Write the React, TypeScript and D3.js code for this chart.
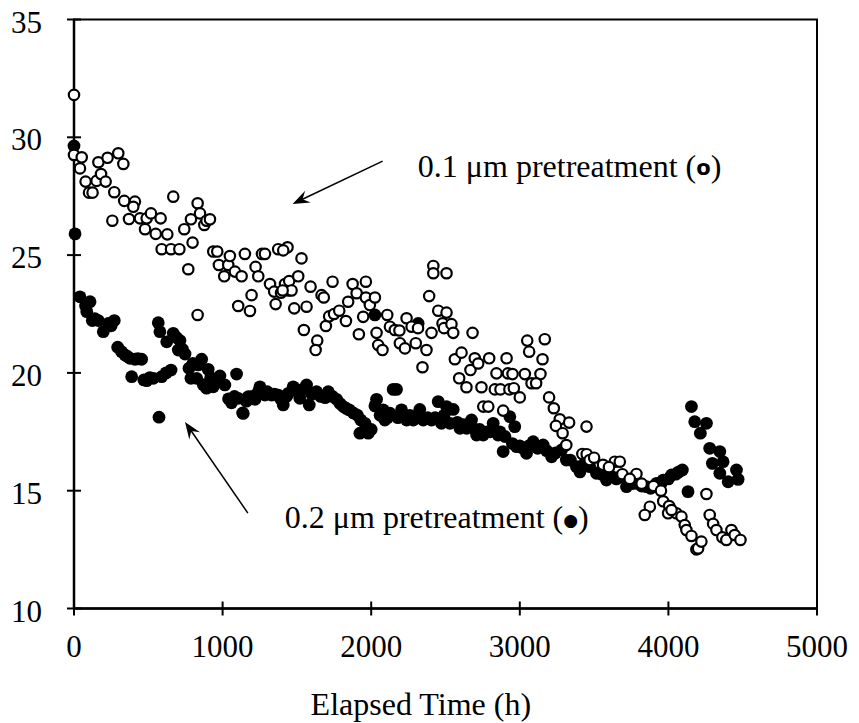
import React from 'react'
import * as d3 from 'd3'

// 0.1 um pretreatment (open circles)
const openTime = [0, 0, 52, 40, 164, 226, 298, 332, 78, 101, 125, 152, 182, 213, 271, 258, 338, 410, 399, 370, 444, 478, 489, 518, 583, 550, 628, 590, 653, 709, 668, 769, 742, 798, 787, 832, 848, 877, 892, 915, 832, 937, 964, 975, 1038, 1049, 1011, 1083, 1128, 1150, 1105, 1184, 1195, 1222, 1240, 1265, 1285, 1319, 1347, 1374, 1437, 1357, 1393, 1420, 1443, 1482, 1531, 1408, 1448, 1509, 1464, 1404, 1565, 1592, 1547, 1637, 1626, 1666, 1681, 1740, 1695, 1717, 1750, 1785, 1845, 1830, 1875, 1902, 1964, 1946, 1917, 1964, 1991, 2025, 2036, 2047, 2076, 2108, 2126, 2159, 2190, 2193, 2227, 2238, 2272, 2300, 2315, 2372, 2345, 2390, 2406, 2418, 2418, 2507, 2451, 2507, 2480, 2490, 2540, 2552, 2682, 2563, 2608, 2592, 2641, 2668, 2697, 2720, 2742, 2794, 2843, 2832, 2870, 2754, 2788, 2888, 2911, 2920, 2930, 2951, 3034, 3050, 3168, 3063, 3153, 3139, 2960, 3000, 3079, 3110, 3197, 3229, 3269, 3332, 3243, 3288, 3449, 3313, 3421, 3450, 3470, 3639, 3673, 3785, 3690, 3500, 3560, 3600, 3740, 3820, 3900, 3950, 3875, 3841, 3965, 4005, 3998, 4054, 4088, 4110, 4121, 4155, 4188, 4200, 4222, 4256, 4278, 4301, 4323, 4363, 4390, 4424, 4446, 4485, 4021]
const openValue = [31.8, 29.25, 29.15, 28.68, 28.94, 29.13, 29.32, 28.87, 28.12, 27.65, 27.65, 28.15, 28.44, 28.12, 27.67, 26.46, 27.3, 27.27, 27.05, 26.53, 26.56, 26.1, 26.56, 26.77, 26.56, 25.9, 25.88, 25.25, 25.25, 25.25, 27.48, 24.4, 26.1, 25.53, 26.52, 27.2, 26.77, 26.28, 26.46, 26.52, 22.46, 25.15, 25.15, 24.58, 24.58, 24.96, 24.1, 24.3, 24.1, 25.05, 22.84, 22.63, 23.3, 24.5, 24.1, 25.05, 25.05, 23.77, 23.45, 25.25, 25.33, 22.92, 23.4, 23.77, 23.5, 22.74, 24.86, 25.2, 23.9, 24.1, 23.5, 23.5, 22.81, 23.66, 21.82, 21.37, 20.97, 23.3, 23.2, 23.87, 21.99, 22.4, 22.5, 22.64, 23.02, 22.2, 23.77, 23.38, 23.87, 22.38, 21.64, 23.2, 22.88, 23.2, 21.7, 21.18, 20.97, 22.46, 21.96, 21.82, 21.8, 21.26, 21.04, 22.32, 21.96, 21.26, 21.9, 20.97, 20.24, 23.26, 21.7, 24.54, 24.23, 24.23, 22.64, 22.56, 22.1, 21.9, 22.07, 21.7, 21.7, 20.58, 20.86, 19.77, 19.39, 20.12, 20.62, 20.4, 19.39, 20.62, 19.98, 19.3, 19.3, 18.57, 18.57, 18.4, 20.62, 19.98, 19.3, 19.95, 19.95, 21.37, 21.43, 20.9, 20.58, 19.95, 19.35, 18.96, 19.56, 19.56, 18.96, 18.5, 18.03, 17.89, 17.75, 17.44, 17.72, 16.94, 16.56, 16.55, 16.3, 16.23, 16.23, 15.71, 15.7, 16.4, 16.1, 16.0, 15.5, 15.3, 15.2, 15.0, 14.32, 13.97, 14.55, 14.35, 14.04, 14.04, 13.9, 13.54, 13.33, 13.08, 12.51, 12.55, 12.84, 14.86, 13.97, 13.59, 13.33, 13.02, 12.91, 13.33, 13.12, 12.91, 14.18]

// 0.2 um pretreatment (filled circles)
const filledTime = [0, 7, 40, 78, 108, 86, 123, 140, 164, 197, 231, 250, 271, 294, 320, 343, 360, 377, 410, 430, 455, 388, 470, 489, 510, 534, 590, 620, 653, 572, 567, 578, 624, 668, 690, 713, 702, 730, 747, 774, 787, 800, 825, 836, 859, 870, 903, 892, 920, 937, 960, 982, 1015, 1040, 1080, 1094, 1060, 1105, 1139, 1135, 1160, 1173, 1200, 1218, 1240, 1251, 1285, 1300, 1330, 1350, 1375, 1390, 1408, 1430, 1442, 1475, 1495, 1540, 1565, 1520, 1600, 1632, 1660, 1690, 1711, 1740, 1583, 1767, 1790, 1812, 1830, 1852, 1880, 1906, 1930, 1958, 1924, 1980, 2000, 2036, 2025, 2060, 2148, 2170, 2080, 2092, 2110, 2126, 2180, 2204, 2238, 2260, 2283, 2300, 2327, 2350, 2380, 2406, 2430, 2451, 2490, 2507, 2552, 2473, 2530, 2580, 2597, 2620, 2675, 2642, 2700, 2709, 2730, 2754, 2780, 2800, 2821, 2854, 2888, 2900, 2025, 2316, 2866, 2933, 2950, 2966, 2978, 3000, 3020, 3060, 3090, 3120, 3157, 3045, 3180, 3214, 3240, 3281, 3313, 3340, 3381, 3405, 3430, 3471, 3516, 3550, 3583, 3620, 3650, 3673, 3718, 3750, 3785, 3820, 3852, 3880, 3920, 3950, 3965, 4000, 4021, 4050, 4070, 4094, 4132, 4155, 4177, 4215, 4256, 4278, 4346, 4296, 4368, 4346, 4402, 4458, 4469]
const filledValue = [29.63, 25.9, 23.23, 22.84, 23.02, 22.6, 22.22, 22.3, 22.22, 21.75, 22.1, 22.0, 22.22, 21.09, 20.9, 20.76, 20.7, 20.62, 20.58, 20.6, 20.58, 19.84, 19.7, 19.67, 19.8, 19.77, 19.84, 20.0, 20.12, 18.12, 22.13, 21.75, 21.32, 21.68, 21.5, 21.37, 20.97, 21.0, 20.8, 20.2, 19.77, 20.4, 19.77, 20.34, 20.58, 19.5, 20.15, 19.35, 19.8, 19.41, 19.6, 19.87, 19.49, 18.9, 19.0, 19.95, 18.73, 18.92, 18.28, 18.3, 18.8, 18.99, 19.0, 18.88, 19.2, 19.41, 19.06, 19.2, 19.06, 19.1, 19.06, 18.9, 18.64, 19.0, 19.13, 19.41, 19.3, 19.3, 19.49, 18.92, 19.1, 19.2, 19.0, 18.95, 19.2, 19.0, 18.64, 18.88, 18.7, 18.57, 18.5, 18.43, 18.3, 18.21, 18.0, 17.86, 17.44, 17.44, 17.6, 18.88, 18.6, 18.2, 19.3, 19.3, 18.43, 18.0, 18.1, 18.29, 18.1, 18.43, 18.0, 18.2, 18.0, 18.1, 18.45, 18.0, 18.1, 18.0, 18.1, 18.78, 18.2, 18.57, 18.45, 17.86, 17.86, 17.9, 17.65, 17.8, 18.0, 17.65, 17.6, 17.36, 17.6, 17.36, 17.5, 17.5, 17.86, 17.36, 16.66, 17.3, 22.46, 22.1, 17.5, 18.14, 17.0, 17.72, 16.87, 16.9, 16.8, 16.9, 17.08, 16.8, 16.94, 16.59, 16.7, 16.44, 16.6, 16.73, 16.3, 16.3, 16.02, 15.8, 16.1, 16.02, 15.74, 15.7, 15.45, 15.6, 15.5, 15.59, 15.17, 15.3, 15.31, 15.2, 15.17, 15.1, 15.31, 15.3, 15.45, 15.5, 15.67, 15.7, 15.8, 15.88, 14.96, 18.57, 17.93, 17.44, 17.86, 16.8, 16.66, 16.16, 16.23, 15.74, 15.38, 15.88, 15.48]

const xTicks = [0, 1000, 2000, 3000, 4000, 5000]
const yTicks = [10, 15, 20, 25, 30, 35]
const xTitle = 'Elapsed Time (h)'
const xTitleAt = 2334

// annotation texts and arrows, in data units
const labelText = ['0.1 μm pretreatment (', '0.2 μm pretreatment (']
const labelSymbol = ['o', '●']
const labelAt = [[2314, 28.32], [1419, 13.42]]
const arrowFrom = [[2077, 28.99], [1170, 14.05]]
const arrowTo = [[1471, 27.17], [747, 17.92]]

const W = 859
const H = 723
const font = '"Liberation Serif", "Times New Roman", serif'

export default function App() {
  const x = d3.scaleLinear().domain([0, 5000]).range([74, 817])
  const y = d3.scaleLinear().domain([10, 35]).range([608.5, 19.5])
  const [x0, x1] = x.range()
  const [y0, y1] = y.range()

  const arrowHead = (i: number) => {
    const ax = x(arrowFrom[i][0]), ay = y(arrowFrom[i][1])
    const bx = x(arrowTo[i][0]), by = y(arrowTo[i][1])
    const a = Math.atan2(by - ay, bx - ax)
    const pt = (l: number, s: number) => {
      const px = bx - l * Math.cos(a) - s * Math.sin(a)
      const py = by - l * Math.sin(a) + s * Math.cos(a)
      return `${px},${py}`
    }
    return {
      line: [ax, ay, bx - 8 * Math.cos(a), by - 8 * Math.sin(a)],
      head: `M${bx},${by} L${pt(17, 6.5)} L${pt(11, 0)} L${pt(17, -6.5)} Z`,
    }
  }

  return (
    <div style={{ position: 'absolute', left: 0, top: 0 }}>
      <svg width={W} height={H} style={{ display: 'block', background: '#fff' }}>
        {/* frame */}
        <rect x={x0} y={y1} width={x1 - x0} height={y0 - y1} fill="none" stroke="#000" strokeWidth={2} />
        <line x1={x0} x2={x0} y1={y1} y2={y0} stroke="#000" strokeWidth={2.5} />
        <line x1={x0} x2={x1} y1={y0} y2={y0} stroke="#000" strokeWidth={2.5} />

        {yTicks.map(t => (
          <g key={'y' + t}>
            <line x1={x0 - 7} x2={x0 + 7} y1={y(t)} y2={y(t)} stroke="#000" strokeWidth={2} />
            <text x={42} y={y(t) + 13} textAnchor="end" fontFamily={font} fontSize={31}>{t}</text>
          </g>
        ))}
        {xTicks.map(t => (
          <g key={'x' + t}>
            <line x1={x(t)} x2={x(t)} y1={y0 - 7} y2={y0 + 7} stroke="#000" strokeWidth={2} />
            <text x={x(t)} y={y0 + 48.5} textAnchor="middle" fontFamily={font} fontSize={31}>{t}</text>
          </g>
        ))}
        <text x={x(xTitleAt)} y={715} textAnchor="middle" fontFamily={font} fontSize={32}>{xTitle}</text>

        {filledTime.map((t, i) => (
          <circle key={'f' + i} cx={x(t)} cy={y(filledValue[i])} r={6.4} fill="#000" />
        ))}
        {openTime.map((t, i) => (
          <circle key={'o' + i} cx={x(t)} cy={y(openValue[i])} r={5.2} fill="#fff" stroke="#000" strokeWidth={2.2} />
        ))}

        {labelText.map((s, i) => {
          const h = arrowHead(i)
          return (
            <g key={'l' + i}>
              <line x1={h.line[0]} y1={h.line[1]} x2={h.line[2]} y2={h.line[3]} stroke="#000" strokeWidth={1.5} />
              <path d={h.head} fill="#000" />
              <text x={x(labelAt[i][0])} y={y(labelAt[i][1])} fontFamily={font} fontSize={32}>
                {s}
                <tspan fontFamily="DejaVu Sans" fontSize={i === 0 ? 21 : 17} fontWeight="bold" dy={-2}>{labelSymbol[i]}</tspan>
                <tspan dy={2}>)</tspan>
              </text>
            </g>
          )
        })}
      </svg>
    </div>
  )
}
